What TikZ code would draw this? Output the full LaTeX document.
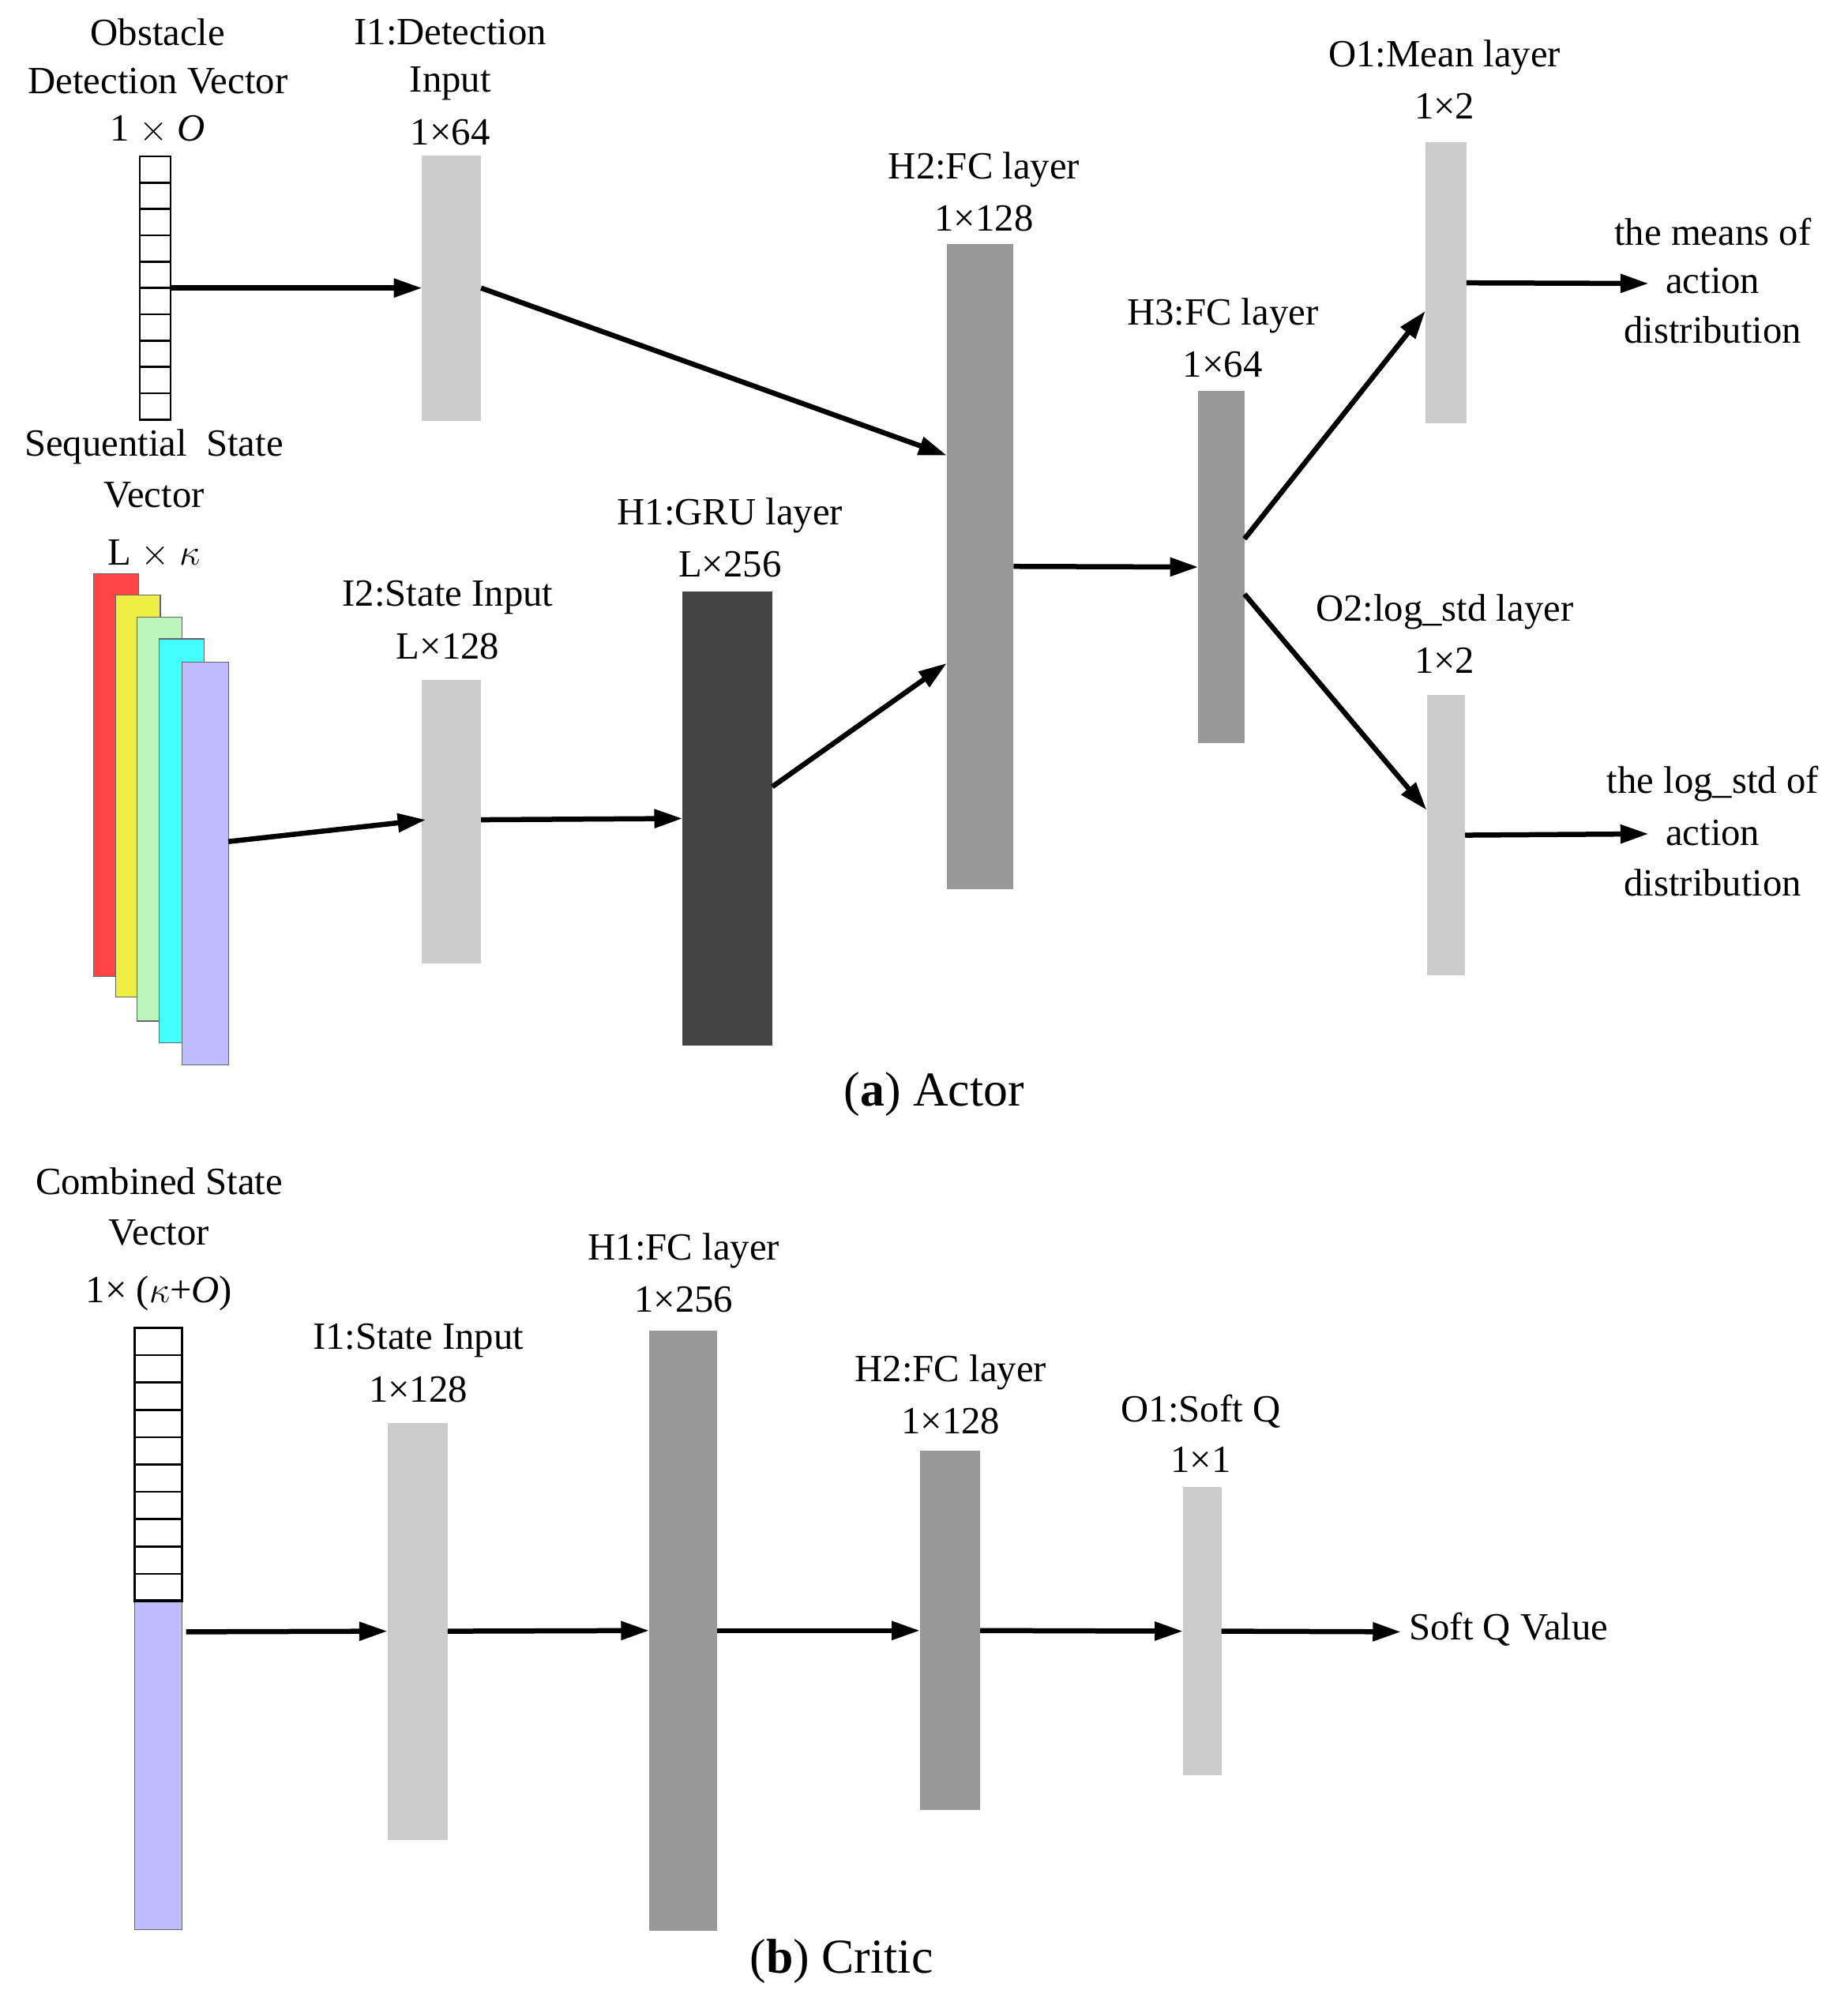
\documentclass[tikz,border=0pt]{standalone}
\usepackage{fontspec}
\setmainfont{Liberation Serif}
\usetikzlibrary{arrows.meta,calc}
\definecolor{lg}{HTML}{CCCCCC}
\definecolor{mg}{HTML}{999999}
\definecolor{dg}{HTML}{444444}
\definecolor{cy}{HTML}{44FFFF}
\definecolor{lgr}{HTML}{BBF5BB}
\definecolor{lav}{HTML}{BDBDFF}
\definecolor{rd}{HTML}{FF4444}
\definecolor{ye}{HTML}{EEEE44}
\begin{document}
\begin{tikzpicture}[x=0.5pt,y=-0.5pt,
 box/.style={draw=none,inner sep=0,outer sep=0},
 ar/.style={line width=2pt,-{Triangle[length=11pt,width=7pt]}},
 lab/.style={font=\fontsize{15}{18}\selectfont,inner sep=0}]
\useasboundingbox (0,0) rectangle (1440,1566);
% ===== Actor =====
% obstacle vector
\node[box,draw=black,line width=0.8pt,minimum width=12pt,minimum height=102.5pt] (obs) at (121,224.5) {};
\foreach \i in {1,...,9} \draw[line width=0.8pt] (109,{122+\i*20.5}) -- (133,{122+\i*20.5});
\node[lab] at (123,25) {Obstacle};
\node[lab] at (123,63) {Detection Vector};
\node[lab] at (123,101) {1 $\times$ \textit{O}};
% I1
\node[box,fill=lg,minimum width=23pt,minimum height=103.5pt] (i1) at (352,224.5) {};
\node[lab] at (351,25) {I1:Detection};
\node[lab] at (351,65) {Input};
\node[lab] at (351,103) {1×64};
% H2
\node[box,fill=mg,minimum width=26pt,minimum height=251.5pt] (h2) at (764,441.5) {};
\node[lab] at (767,132) {H2:FC layer};
\node[lab] at (767,170) {1×128};
% seq state
\node[lab] at (120,348) {Sequential\ \ State};
\node[lab] at (120,386) {Vector};
\node[lab] at (120,432) {L $\times$ $\kappa$};
\node[box,fill=rd,draw=black!60,minimum width=17.5pt,minimum height=157pt] at (90.5,604) {};
\node[box,fill=ye,draw=black!60,minimum width=17.5pt,minimum height=156.5pt] at (107.5,620.5) {};
\node[box,fill=lgr,draw=black!60,minimum width=17.5pt,minimum height=157.5pt] at (124.5,638.5) {};
\node[box,fill=cy,draw=black!60,minimum width=17.5pt,minimum height=157.5pt] at (141.5,655.5) {};
\node[box,fill=lav,draw=black!60,minimum width=18pt,minimum height=157pt] (seq) at (160,673) {};
% I2
\node[box,fill=lg,minimum width=23pt,minimum height=110.5pt] (i2) at (352,640.5) {};
\node[lab] at (349,466) {I2:State Input};
\node[lab] at (349,504) {L×128};
% H1 GRU
\node[box,fill=dg,minimum width=35pt,minimum height=177pt] (h1) at (567,638) {};
\node[lab] at (569,402) {H1:GRU layer};
\node[lab] at (569,440) {L×256};
% H3
\node[box,fill=mg,minimum width=18pt,minimum height=137pt] (h3) at (952,442) {};
\node[lab] at (953,246) {H3:FC layer};
\node[lab] at (953,284) {1×64};
% O1
\node[box,fill=lg,minimum width=16pt,minimum height=109.5pt] (o1) at (1127,220.5) {};
\node[lab] at (1126,45) {O1:Mean layer};
\node[lab] at (1126,83) {1×2};
% O2
\node[box,fill=lg,minimum width=15pt,minimum height=109pt] (o2) at (1127,651) {};
\node[lab] at (1126,477) {O2:log\_std layer};
\node[lab] at (1126,515) {1×2};
\coordinate (m1) at (1285,221);
\coordinate (m2) at (1285,650);
\node[lab] at (1335,181) {the means of};
\node[lab] at (1335,219) {action};
\node[lab] at (1335,257) {distribution};
\node[lab] at (1335,611) {the log\_std of};
\node[lab] at (1335,649) {action};
\node[lab] at (1335,688) {distribution};
\node[lab,font=\fontsize{19}{22}\selectfont] at (728,853) {(\textbf{a}) Actor};
% actor arrows
\draw[ar] (obs.east) -- (i1.west);
\draw[ar] (i1.east) -- ($(h2.north west)!0.328!(h2.south west)$);
\draw[ar] ($(seq.east)+(0,-17)$) -- ($(i2.west)+(3,-1.5)$);
\draw[ar] ($(i2.east)+(0,-1.5)$) -- ($(h1.west)+(0,0)$);
\draw[ar] ($(h1.north east)!0.43!(h1.south east)$) -- ($(h2.north west)!0.65!(h2.south west)$);
\draw[ar] (h2.east) -- (h3.west);
\draw[ar] ($(h3.north east)!0.42!(h3.south east)$) -- ($(o1.north west)!0.6!(o1.south west)$);
\draw[ar] ($(h3.north east)!0.577!(h3.south east)$) -- ($(o2.north west)!0.41!(o2.south west)$);
\draw[ar] (o1.east) -- (m1);
\draw[ar] (o2.east) -- (m2);
% ===== Critic =====
\node[lab] at (124,921) {Combined State};
\node[lab] at (124,961) {Vector};
\node[lab] at (124,1008) {1× ($\kappa$+\textit{O})};
\node[box,fill=lav,draw=black!60,minimum width=18.5pt,minimum height=128pt] (cl) at (123.5,1376) {};
\node[box,draw=black,line width=0.8pt,minimum width=18.5pt,minimum height=106.5pt] (cv) at (123.5,1141.5) {};
\foreach \i in {1,...,9} \draw[line width=0.8pt] (105,{1035+\i*21.3}) -- (142,{1035+\i*21.3});
\draw[line width=1.2pt] (105,1248) -- (142,1248);
\coordinate (cs) at (145,1272);
\node[box,fill=lg,minimum width=23.5pt,minimum height=162.5pt] (ci1) at (325.5,1271.5) {};
\node[lab] at (326,1045) {I1:State Input};
\node[lab] at (326,1083) {1×128};
\node[box,fill=mg,minimum width=26.5pt,minimum height=234pt] (ch1) at (532.5,1271) {};
\node[lab] at (533,975) {H1:FC layer};
\node[lab] at (533,1013) {1×256};
\node[box,fill=mg,minimum width=23.5pt,minimum height=140pt] (ch2) at (740.5,1271) {};
\node[lab] at (741,1070) {H2:FC layer};
\node[lab] at (741,1108) {1×128};
\node[box,fill=lg,minimum width=15pt,minimum height=112.5pt] (co1) at (937,1271.5) {};
\node[lab] at (936,1100) {O1:Soft Q};
\node[lab] at (936,1138) {1×1};
\coordinate (cq) at (1092,1272);
\node[lab,anchor=west] at (1098,1270) {Soft Q Value};
\node[lab,font=\fontsize{19}{22}\selectfont] at (656,1529) {(\textbf{b}) Critic};
\draw[ar] (cs) -- (ci1.west);
\draw[ar] (ci1.east) -- (ch1.west);
\draw[ar] (ch1.east) -- (ch2.west);
\draw[ar] (ch2.east) -- (co1.west);
\draw[ar] (co1.east) -- (cq);
\end{tikzpicture}
\end{document}
